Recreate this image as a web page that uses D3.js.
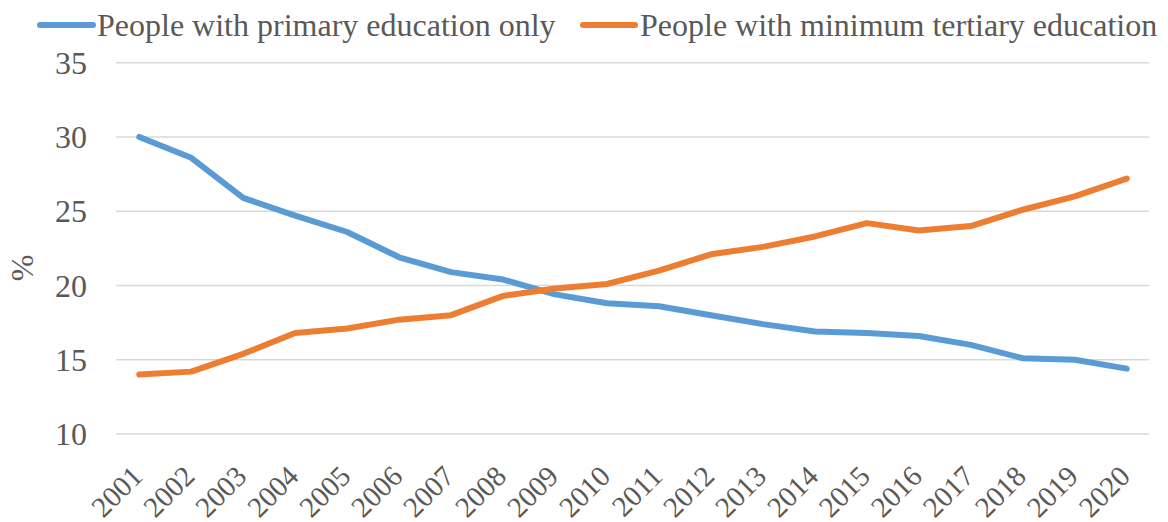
<!DOCTYPE html>
<html><head><meta charset="utf-8">
<script src="https://cdn.jsdelivr.net/npm/d3@7"></script>
<style>body{margin:0;background:#fff}svg{display:block}</style>
</head><body>
<svg id="c" width="1168" height="522"></svg>
<script>
const years = ["2001","2002","2003","2004","2005","2006","2007","2008","2009","2010","2011","2012","2013","2014","2015","2016","2017","2018","2019","2020"];
const primaryOnly = [30.0,28.6,25.9,24.7,23.6,21.9,20.9,20.4,19.4,18.8,18.6,18.0,17.4,16.9,16.8,16.6,16.0,15.1,15.0,14.4];
const tertiaryMin = [14.0,14.2,15.4,16.8,17.1,17.7,18.0,19.3,19.8,20.1,21.0,22.1,22.6,23.3,24.2,23.7,24.0,25.1,26.0,27.2];
const yTicks = [10,15,20,25,30,35];
const seriesNames = ["People with primary education only","People with minimum tertiary education"];
const colors = ["#5B9BD5","#ED7D31"];

const svg = d3.select("#c");
const font = "'Liberation Serif','Times New Roman',serif";
const textColor = "#595959";
const plotL = 116, plotR = 1149, plotT = 62.7, plotB = 434;

const x = d3.scalePoint().domain(years).range([113.3, 1152.7]).padding(0.5);
const y = d3.scaleLinear().domain([10,35]).range([plotB, plotT]);

// grid
svg.append("g").selectAll("line").data(yTicks).join("line")
  .attr("x1", plotL).attr("x2", plotR)
  .attr("y1", d => y(d)).attr("y2", d => y(d))
  .attr("stroke", "#D9D9D9").attr("stroke-width", 1.5);

// y labels
svg.append("g").selectAll("text").data(yTicks).join("text")
  .attr("x", 87).attr("y", d => y(d)).attr("dy", "0.35em")
  .attr("text-anchor", "end")
  .attr("font-family", font).attr("font-size", 32).attr("fill", textColor)
  .text(d => d);

// y axis title
svg.append("text")
  .attr("transform", "translate(33,268) rotate(-90)")
  .attr("text-anchor", "middle")
  .attr("font-family", font).attr("font-size", 32).attr("fill", textColor)
  .text("%");

// x labels
svg.append("g").selectAll("text").data(years).join("text")
  .attr("transform", d => `translate(${x(d)+5},478) rotate(-45)`)
  .attr("text-anchor", "end")
  .attr("font-family", font).attr("font-size", 29).attr("fill", textColor)
  .text(d => d);

// lines
const line = d3.line().x((d,i) => x(years[i])).y(d => y(d));
[primaryOnly, tertiaryMin].forEach((s, k) => {
  svg.append("path").datum(s)
    .attr("d", line)
    .attr("fill", "none")
    .attr("stroke", colors[k]).attr("stroke-width", 6)
    .attr("stroke-linejoin", "round").attr("stroke-linecap", "round");
});

// legend
const legendPos = [{x1:40, x2:93, tx:97}, {x1:583, x2:635, tx:640}];
seriesNames.forEach((n, k) => {
  const p = legendPos[k];
  svg.append("line").attr("x1", p.x1).attr("x2", p.x2).attr("y1", 25).attr("y2", 25)
    .attr("stroke", colors[k]).attr("stroke-width", 6).attr("stroke-linecap", "round");
  svg.append("text").attr("x", p.tx).attr("y", 24.5).attr("dy", "0.35em")
    .attr("font-family", font).attr("font-size", 32).attr("fill", textColor)
    .text(n);
});
</script>
</body></html>
